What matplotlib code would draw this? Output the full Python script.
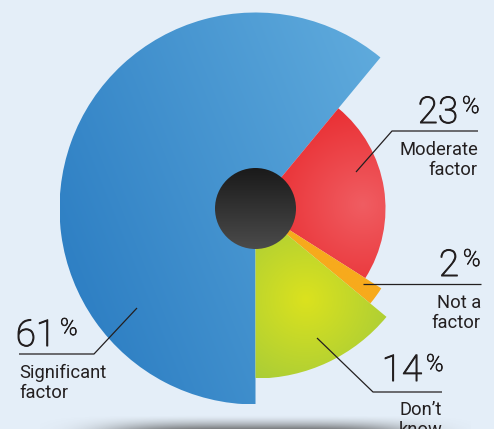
import numpy as np
import matplotlib.pyplot as plt
import matplotlib.patheffects as pe
from matplotlib.patches import Wedge, Circle

# survey answers, clockwise from the bottom
labels = ["Significant\nfactor", "Moderate\nfactor", "Not a\nfactor", "Don\u2019t\nknow"]
shares = [61, 23, 2, 14]

W, H = 494, 429
BG = '#e4eef8'
INK = '#231f20'

fig = plt.figure(figsize=(W / 100, H / 100), dpi=100)
fig.patch.set_facecolor(BG)
ax = fig.add_axes([0, 0, 1, 1])
ax.set_facecolor(BG)


def py(y):
    # flip a top-down pixel row into axes coordinates
    return H - y


cx, cy = 255.5, py(208.5)
radii = [196, 130, 149, 170]


def grid(ext, n=240):
    xs = np.linspace(ext[0], ext[1], n)
    ys = np.linspace(ext[2], ext[3], n)
    return np.meshgrid(xs, ys)


def hex_rgb(h):
    h = h.lstrip('#')
    return np.array([int(h[i:i + 2], 16) / 255 for i in (0, 2, 4)])


def blend(t, c0, c1):
    t = np.clip(t, 0, 1)[..., None]
    return hex_rgb(c0) * (1 - t) + hex_rgb(c1) * t


def linear_fill(ext, c0, c1, ang):
    X, Y = grid(ext)
    a = np.radians(ang)
    d = (X - ext[0]) * np.cos(a) + (Y - ext[2]) * np.sin(a)
    return blend((d - d.min()) / (d.max() - d.min()), c0, c1)


def radial_fill(ext, x0, y0, rad, c_in, c_out):
    X, Y = grid(ext)
    return blend(np.hypot(X - x0, Y - y0) / rad, c_in, c_out)


def shade(patch, rgb, ext, z):
    patch.set_facecolor('none')
    patch.set_edgecolor('none')
    patch.set_zorder(z)
    ax.add_patch(patch)
    im = ax.imshow(rgb, extent=ext, origin='lower', interpolation='bilinear', zorder=z)
    im.set_clip_path(patch)


# wedge angles: go clockwise starting at the bottom
spans = []
cur = 270.0
for s in shares:
    t1 = cur - 360 * s / 100
    spans.append((t1, cur))
    cur = t1

fills = []
for i, r in enumerate(radii):
    ext = [cx - r, cx + r, cy - r, cy + r]
    if i == 0:
        rgb = linear_fill(ext, '#2779c0', '#6ab4e2', 22)
    elif i == 1:
        rgb = radial_fill(ext, 362, py(205), 120, '#f05d62', '#e8262a')
    elif i == 2:
        rgb = np.ones((2, 2, 3)) * hex_rgb('#f7aa1c')
    else:
        rgb = radial_fill(ext, 305, py(300), 120, '#dbe21e', '#9cc73e')
    fills.append((rgb, ext))

for i, (t1, t2) in enumerate(spans):
    w = Wedge((cx, cy), radii[i], t1, t2)
    shade(w, fills[i][0], fills[i][1], 2)

# dark hub
hub_r = 40.5
hub_ext = [cx - hub_r, cx + hub_r, cy - hub_r, cy + hub_r]
X, Y = grid(hub_ext)
hub_rgb = blend((hub_ext[3] - Y) / (2 * hub_r), '#1a1a1a', '#4b4b4b')
shade(Circle((cx, cy), hub_r), hub_rgb, hub_ext, 3)

# soft shadow along the bottom edge
sh_ext = [40, 470, 0, 16]
X, Y = grid(sh_ext, 200)
alpha = 0.75 * np.exp(-((X - 258) / 150) ** 4) * np.clip(1 - Y / 14, 0, 1) ** 1.6
sh = np.zeros(X.shape + (4,))
sh[..., :3] = 0.33
sh[..., 3] = alpha
ax.imshow(sh, extent=sh_ext, origin='lower', interpolation='bilinear', zorder=1)

# callouts: number, % sign, label lines, leader line
# thin face plus a fine outline gives a light-weight look
num_font = dict(family=['Roboto', 'DejaVu Sans'], fontweight='light', color=INK)
lab_font = dict(family=['Roboto', 'DejaVu Sans'], color=INK, fontsize=13.2)
thicken = [pe.withStroke(linewidth=0.75, foreground=INK)]

callouts = [
    # num right x, baseline, % top, label x, label ha, label baselines, leader
    (56, 346, 317, 19, 'left', (378, 398), [(137, 308), (94, 354), (19, 354)]),
    (458, 123, 95, 478, 'right', (155, 175), [(356, 172), (392, 131), (478, 131)]),
    (459, 276, 248, 481, 'right', (308, 328), [(363, 284), (481, 284)]),
    (422, 381, 353, 442, 'right', (415, 435), [(317, 338), (373, 392), (442, 392)]),
]

for i, (nx, nb, pt, lx, ha, lbs, pts) in enumerate(callouts):
    ax.text(nx, py(nb), str(shares[i]), ha='right', va='baseline', fontsize=26.5,
            zorder=5, path_effects=thicken, **num_font)
    ax.text(nx + 4, py(pt), '%', ha='left', va='top', fontsize=17, zorder=5,
            path_effects=[pe.withStroke(linewidth=0.55, foreground=INK)], **num_font)
    for line, b in zip(labels[i].split('\n'), lbs):
        ax.text(lx, py(b), line, ha=ha, va='baseline', zorder=5, **lab_font)
    xs = [p[0] for p in pts]
    ys = [py(p[1]) for p in pts]
    ax.plot(xs, ys, color=INK, lw=0.9, zorder=4, solid_capstyle='butt')

ax.set_xlim(0, W)
ax.set_ylim(0, H)
ax.set_aspect('auto')
ax.axis('off')

fig.savefig('out.png', dpi=100, facecolor=BG)
